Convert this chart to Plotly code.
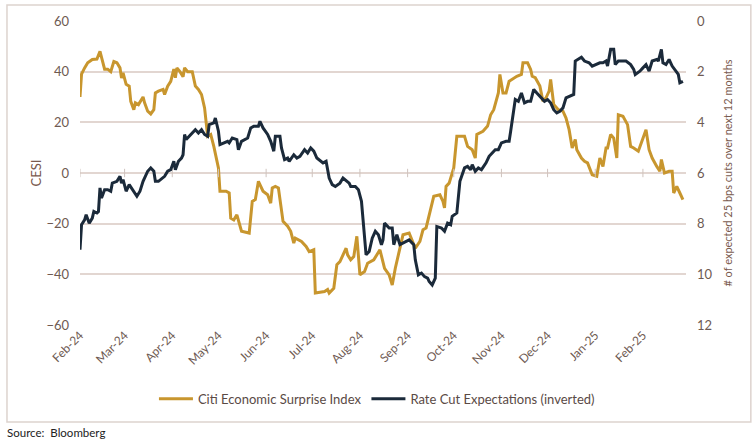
import plotly.graph_objects as go

# ---------------- data ----------------
cesi_dates = [
    "2024-02-01", "2024-02-02", "2024-02-04", "2024-02-06", "2024-02-09", "2024-02-12", "2024-02-14",
    "2024-02-15", "2024-02-17", "2024-02-19", "2024-02-21", "2024-02-23", "2024-02-25", "2024-02-27",
    "2024-02-28", "2024-02-29", "2024-03-02", "2024-03-04", "2024-03-05", "2024-03-07", "2024-03-08",
    "2024-03-10", "2024-03-13", "2024-03-14", "2024-03-16", "2024-03-18", "2024-03-20", "2024-03-21",
    "2024-03-23", "2024-03-26", "2024-03-27", "2024-03-29", "2024-03-31", "2024-04-02", "2024-04-03",
    "2024-04-04", "2024-04-06", "2024-04-08", "2024-04-09", "2024-04-11", "2024-04-14", "2024-04-16",
    "2024-04-18", "2024-04-20", "2024-04-22", "2024-04-24", "2024-04-26", "2024-04-28", "2024-05-01",
    "2024-05-02", "2024-05-06", "2024-05-08", "2024-05-09", "2024-05-11", "2024-05-13", "2024-05-16",
    "2024-05-21", "2024-05-23", "2024-05-25", "2024-05-27", "2024-05-30", "2024-06-02", "2024-06-04",
    "2024-06-05", "2024-06-07", "2024-06-09", "2024-06-12", "2024-06-15", "2024-06-17", "2024-06-19",
    "2024-06-20", "2024-06-24", "2024-06-27", "2024-06-29", "2024-07-02", "2024-07-03", "2024-07-09",
    "2024-07-11", "2024-07-12", "2024-07-15", "2024-07-17", "2024-07-19", "2024-07-23", "2024-07-24",
    "2024-07-26", "2024-07-28", "2024-07-30", "2024-08-01", "2024-08-04", "2024-08-06", "2024-08-10",
    "2024-08-14", "2024-08-17", "2024-08-20", "2024-08-22", "2024-08-24", "2024-08-27", "2024-08-29",
    "2024-09-02", "2024-09-06", "2024-09-09", "2024-09-11", "2024-09-13", "2024-09-15", "2024-09-18",
    "2024-09-22", "2024-09-24", "2024-09-25", "2024-09-26", "2024-09-28", "2024-10-01", "2024-10-03",
    "2024-10-08", "2024-10-10", "2024-10-13", "2024-10-15", "2024-10-16", "2024-10-20", "2024-10-23",
    "2024-10-25", "2024-10-27", "2024-10-30", "2024-10-31", "2024-11-02", "2024-11-04", "2024-11-06",
    "2024-11-09", "2024-11-11", "2024-11-14", "2024-11-15", "2024-11-18", "2024-11-20", "2024-11-21",
    "2024-11-23", "2024-11-26", "2024-11-28", "2024-11-30", "2024-12-02", "2024-12-03", "2024-12-05",
    "2024-12-08", "2024-12-11", "2024-12-13", "2024-12-15", "2024-12-17", "2024-12-19", "2024-12-20",
    "2024-12-23", "2024-12-25", "2024-12-27", "2024-12-30", "2025-01-02", "2025-01-04", "2025-01-06",
    "2025-01-08", "2025-01-09", "2025-01-11", "2025-01-13", "2025-01-15", "2025-01-16", "2025-01-19",
    "2025-01-22", "2025-01-24", "2025-01-26", "2025-01-29", "2025-01-31", "2025-02-03", "2025-02-05",
    "2025-02-07", "2025-02-10", "2025-02-12", "2025-02-13", "2025-02-15", "2025-02-18", "2025-02-20",
    "2025-02-21", "2025-02-23", "2025-02-25", "2025-02-27",
]
cesi_values = [
    30.0, 39.0, 41.5, 43.5, 44.8, 45.0, 48.0,
    46.0, 41.0, 41.0, 40.0, 44.0, 43.5, 41.5,
    37.5, 39.5, 35.0, 34.3, 28.3, 25.0, 27.7,
    27.0, 30.0, 27.7, 24.4, 23.3, 25.0, 31.6,
    32.3, 33.0, 31.0, 34.3, 36.2, 41.0, 37.6,
    41.5, 40.0, 38.0, 41.5, 40.0, 40.0, 34.3,
    33.0, 31.0, 25.7, 14.5, 15.2, 10.5, 2.0,
    -7.2, -7.2, -7.9, -17.8, -18.5, -16.5, -23.0,
    -23.7, -11.2, -10.5, -3.3, -7.2, -8.6, -11.9,
    -5.9, -5.3, -5.9, -19.1, -21.0, -23.0, -27.7,
    -25.7, -27.0, -29.0, -31.0, -30.3, -47.4, -46.8,
    -46.0, -47.4, -45.5, -36.2, -35.0, -29.7, -32.3,
    -34.3, -33.0, -25.0, -40.2, -38.9, -35.6, -34.3,
    -30.3, -37.6, -40.2, -44.2, -37.6, -29.7, -24.4,
    -23.7, -29.7, -27.0, -22.4, -21.7, -16.5, -9.2,
    -8.6, -11.2, -13.8, -5.3, -4.0, 2.0, 14.5,
    14.5, 10.5, 9.2, 5.9, 15.2, 16.5, 18.5,
    23.0, 25.0, 31.6, 38.9, 31.6, 31.6, 36.2,
    37.6, 38.2, 38.9, 43.5, 43.5, 40.9, 38.2,
    37.6, 34.3, 28.3, 29.7, 32.3, 36.9, 27.0,
    25.0, 24.4, 21.7, 17.1, 9.9, 13.2, 9.2,
    5.9, 4.6, 4.0, -0.7, -1.3, 5.9, 2.6,
    9.9, 9.9, 15.2, 13.8, 5.9, 23.0, 22.4,
    19.1, 10.5, 9.9, 8.6, 11.9, 17.1, 9.2,
    5.9, 2.6, 0.7, 5.3, 0.0, 0.7, 0.7,
    -7.9, -5.3, -7.9, -10.5,
]

cuts_dates = [
    "2024-02-01", "2024-02-02", "2024-02-04", "2024-02-05", "2024-02-07", "2024-02-09", "2024-02-10",
    "2024-02-12", "2024-02-13", "2024-02-14", "2024-02-15", "2024-02-17", "2024-02-19", "2024-02-21",
    "2024-02-22", "2024-02-25", "2024-02-27", "2024-02-28", "2024-02-29", "2024-03-02", "2024-03-04",
    "2024-03-06", "2024-03-09", "2024-03-11", "2024-03-13", "2024-03-16", "2024-03-18", "2024-03-20",
    "2024-03-21", "2024-03-23", "2024-03-26", "2024-03-27", "2024-03-29", "2024-03-31", "2024-04-02",
    "2024-04-03", "2024-04-05", "2024-04-07", "2024-04-08", "2024-04-09", "2024-04-10", "2024-04-12",
    "2024-04-15", "2024-04-16", "2024-04-18", "2024-04-20", "2024-04-22", "2024-04-24", "2024-04-25",
    "2024-04-28", "2024-04-29", "2024-05-01", "2024-05-02", "2024-05-05", "2024-05-07", "2024-05-08",
    "2024-05-10", "2024-05-13", "2024-05-14", "2024-05-16", "2024-05-18", "2024-05-20", "2024-05-22",
    "2024-05-24", "2024-05-27", "2024-05-28", "2024-05-30", "2024-06-02", "2024-06-04", "2024-06-06",
    "2024-06-07", "2024-06-10", "2024-06-11", "2024-06-13", "2024-06-15", "2024-06-16", "2024-06-19",
    "2024-06-21", "2024-06-23", "2024-06-26", "2024-06-28", "2024-06-30", "2024-07-02", "2024-07-04",
    "2024-07-08", "2024-07-10", "2024-07-12", "2024-07-14", "2024-07-16", "2024-07-19", "2024-07-21",
    "2024-07-22", "2024-07-25", "2024-07-26", "2024-07-29", "2024-07-31", "2024-08-02", "2024-08-05",
    "2024-08-06", "2024-08-07", "2024-08-09", "2024-08-11", "2024-08-13", "2024-08-15", "2024-08-16",
    "2024-08-17", "2024-08-20", "2024-08-22", "2024-08-23", "2024-08-25", "2024-08-27", "2024-08-29",
    "2024-08-31", "2024-09-02", "2024-09-05", "2024-09-06", "2024-09-08", "2024-09-10", "2024-09-12",
    "2024-09-14", "2024-09-15", "2024-09-17", "2024-09-19", "2024-09-20", "2024-09-23", "2024-09-25",
    "2024-09-27", "2024-09-29", "2024-09-30", "2024-10-03", "2024-10-05", "2024-10-08", "2024-10-10",
    "2024-10-12", "2024-10-13", "2024-10-15", "2024-10-17", "2024-10-19", "2024-10-22", "2024-10-24",
    "2024-10-26", "2024-10-28", "2024-10-30", "2024-11-01", "2024-11-04", "2024-11-06", "2024-11-07",
    "2024-11-09", "2024-11-10", "2024-11-12", "2024-11-14", "2024-11-16", "2024-11-18", "2024-11-20",
    "2024-11-22", "2024-11-24", "2024-11-26", "2024-11-29", "2024-12-01", "2024-12-03", "2024-12-05",
    "2024-12-07", "2024-12-09", "2024-12-11", "2024-12-13", "2024-12-16", "2024-12-18", "2024-12-19",
    "2024-12-21", "2024-12-23", "2024-12-25", "2024-12-28", "2024-12-30", "2025-01-02", "2025-01-04",
    "2025-01-06", "2025-01-08", "2025-01-09", "2025-01-11", "2025-01-13", "2025-01-14", "2025-01-16",
    "2025-01-19", "2025-01-21", "2025-01-24", "2025-01-26", "2025-01-27", "2025-01-30", "2025-02-01",
    "2025-02-03", "2025-02-05", "2025-02-07", "2025-02-10", "2025-02-11", "2025-02-13", "2025-02-14",
    "2025-02-16", "2025-02-18", "2025-02-20", "2025-02-23", "2025-02-24", "2025-02-25", "2025-02-27",
]
cuts_values = [
    9.03, 8.04, 7.85, 7.65, 7.98, 7.78, 7.52,
    7.58, 7.52, 6.59, 6.99, 6.66, 6.66, 6.72,
    6.40, 6.33, 6.13, 6.40, 6.26, 6.72, 6.46,
    6.66, 6.92, 6.72, 6.33, 5.93, 5.80, 5.93,
    6.33, 6.33, 6.20, 6.13, 5.93, 5.87, 5.54,
    5.87, 5.54, 5.41, 5.28, 4.48, 4.68, 4.55,
    4.35, 4.29, 4.42, 4.29, 4.48, 4.55, 4.09,
    4.02, 3.83, 4.35, 4.88, 4.81, 4.75, 4.81,
    4.62, 4.68, 5.08, 4.75, 4.68, 4.62, 4.22,
    4.15, 4.15, 3.96, 4.22, 4.48, 4.75, 5.14,
    4.55, 4.55, 5.01, 5.47, 5.41, 5.54, 5.28,
    5.41, 5.34, 5.08, 5.21, 5.01, 5.14, 5.41,
    5.60, 5.54, 6.20, 6.46, 6.53, 6.40, 6.20,
    6.26, 6.40, 6.53, 6.53, 6.66, 7.12, 9.23,
    9.16, 9.10, 8.57, 8.30, 8.44, 8.83, 8.64,
    7.98, 8.17, 8.17, 8.83, 8.44, 8.83, 8.77,
    8.70, 8.64, 8.83, 9.43, 10.02, 9.95, 10.09,
    10.15, 10.28, 10.42, 10.15, 8.11, 8.17, 8.30,
    7.98, 8.04, 7.71, 7.58, 6.33, 5.80, 5.74,
    5.87, 5.67, 5.93, 5.80, 5.87, 5.60, 5.34,
    5.21, 5.08, 5.08, 4.81, 4.75, 4.75, 4.35,
    3.50, 3.10, 3.17, 2.84, 3.23, 3.17, 3.17,
    2.70, 2.84, 2.97, 3.17, 3.10, 3.23, 3.50,
    3.63, 3.56, 3.43, 3.03, 2.97, 2.90, 1.58,
    1.52, 1.43, 1.58, 1.65, 1.78, 1.72, 1.65,
    1.65, 1.58, 1.78, 1.12, 1.12, 1.72, 1.58,
    1.58, 1.58, 1.72, 1.91, 2.11, 1.98, 1.85,
    1.72, 1.98, 1.58, 1.52, 1.58, 1.12, 1.65,
    1.72, 1.52, 1.78, 2.05, 2.11, 2.44, 2.38,
]

tick_dates = [
    "2024-02-01", "2024-03-01", "2024-04-01", "2024-05-01", "2024-06-01", "2024-07-01", "2024-08-01",
    "2024-09-01", "2024-10-01", "2024-11-01", "2024-12-01", "2025-01-01", "2025-02-01",
]
tick_labels = [
    "Feb-24", "Mar-24", "Apr-24", "May-24", "Jun-24", "Jul-24", "Aug-24",
    "Sep-24", "Oct-24", "Nov-24", "Dec-24", "Jan-25", "Feb-25",
]
left_ticks = [-60, -40, -20, 0, 20, 40, 60]
right_ticks = [0, 2, 4, 6, 8, 10, 12]

# ---------------- styles ----------------
GOLD = "#C8962E"
NAVY = "#1B2A3A"
GRID = "#E2D6D1"
LABEL = "#6E5A52"
TITLE = "#7A5A4E"
FONT = "Lato"

fig = go.Figure()

fig.add_trace(go.Scatter(
    x=cesi_dates, y=cesi_values, name="Citi Economic Surprise Index",
    mode="lines", line=dict(color=GOLD, width=3), yaxis="y",
))
fig.add_trace(go.Scatter(
    x=cuts_dates, y=cuts_values, name="Rate Cut Expectations (inverted)",
    mode="lines", line=dict(color=NAVY, width=3), yaxis="y2",
))
# tick marks on the horizontal axis line at zero
fig.add_trace(go.Scatter(
    x=tick_dates, y=[0] * len(tick_dates), mode="markers",
    marker=dict(symbol="line-ns", size=6, line=dict(color="#CFC3BE", width=1)),
    showlegend=False, hoverinfo="skip", yaxis="y",
))

fig.update_layout(
    width=756, height=445,
    margin=dict(l=80, r=70, t=21, b=120),
    paper_bgcolor="white", plot_bgcolor="white",
    font=dict(family=FONT, size=12, color=LABEL),
    xaxis=dict(
        type="date", range=["2024-02-01", "2025-03-01"],
        tickvals=tick_dates, ticktext=tick_labels, tickangle=-45,
        showgrid=False, zeroline=False, showline=False, ticks="",
        tickfont=dict(size=12, color=LABEL),
    ),
    yaxis=dict(
        range=[-60, 60], tickvals=left_ticks, showgrid=True, gridcolor=GRID, gridwidth=1.5,
        zeroline=False, showline=False, ticks="", ticklabelstandoff=10,
        tickfont=dict(size=13, color=LABEL),
        title=dict(text="CESI", font=dict(size=13, color=TITLE), standoff=1),
    ),
    yaxis2=dict(
        overlaying="y", side="right", range=[12, 0], tickvals=right_ticks,
        showgrid=False, zeroline=False, showline=False, ticks="", ticklabelstandoff=10,
        tickfont=dict(size=13, color=LABEL),
        title=dict(text="# of expected 25 bps cuts over next 12 months",
                   font=dict(size=11, color=TITLE), standoff=12),
    ),
    legend=dict(
        orientation="h", x=0.49, xanchor="center", y=-0.243, yanchor="middle",
        font=dict(size=13, color="#5A4A45"), itemwidth=34, traceorder="normal",
    ),
    shapes=[dict(
        type="rect", xref="paper", yref="paper",
        x0=-0.1205, x1=1.107, y0=-0.319, y1=1.0526,
        line=dict(color="#DDD3CE", width=1.5), fillcolor="rgba(0,0,0,0)", layer="below",
    )],
    annotations=[dict(
        text="Source:  Bloomberg", xref="paper", yref="paper",
        x=-0.124, y=-0.355, xanchor="left", yanchor="middle", showarrow=False,
        font=dict(family=FONT, size=11.5, color="#222222"),
    )],
)

fig.write_html("out.html")
